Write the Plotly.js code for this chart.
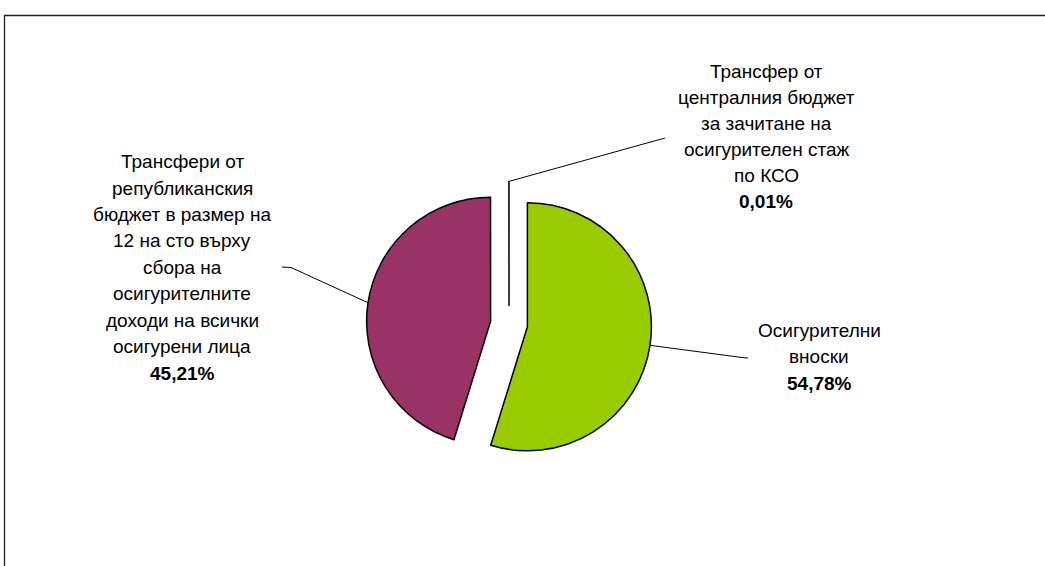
<!DOCTYPE html>
<html><head><meta charset="utf-8">
<script src="https://cdn.plot.ly/plotly-3.0.1.min.js"></script>
<style>html,body{margin:0;padding:0;background:#fff}#chart{width:1045px;height:566px}</style>
</head><body><div id="chart"></div>
<script>
// ---- data ----
const categories = [
  'Осигурителни вноски',
  'Трансфери от републиканския бюджет в размер на 12 на сто върху сбора на осигурителните доходи на всички осигурени лица',
  'Трансфер от централния бюджет за зачитане на осигурителен стаж по КСО'
];
const values = [54.78, 45.21, 0.01];
const sliceColors = ['#99CC00', '#993366', '#FFFFFF'];
const labelLines = [
  ['Осигурителни', 'вноски'],
  ['Трансфери от', 'републиканския', 'бюджет в размер на', '12 на сто върху', 'сбора на', 'осигурителните', 'доходи на всички', 'осигурени лица'],
  ['Трансфер от', 'централния бюджет', 'за зачитане на', 'осигурителен стаж', 'по КСО']
];

// ---- layout geometry (pixels) ----
const W = 1045, H = 566;
const CX = 509, CY = 324, R = 124, PULL = 0.15;
const FS = 19;
const labelPos = [
  {cx: 819, base: 336.7, gap: 26.7, elbow: [742, 357.5], end: [748, 358]},
  {cx: 182, base: 168.3, gap: 26.45, elbow: [291, 267.5], end: [282, 267]},
  {cx: 766, base: 77.7, gap: 26.06, elbow: [665, 138], end: [665, 138]}
];

const px = x => x / W;
const py = y => 1 - y / H;
const half = R * (1 + PULL);

const total = values.reduce((a, b) => a + b, 0);
const fmt = v => v.toFixed(2).replace('.', ',') + '%';

const annotations = [];
const shapes = [];
let cum = 0;
values.forEach((v, i) => {
  const mid = (cum + v / 2) / total * 2 * Math.PI;
  cum += v;
  const sx = Math.sin(mid), sy = -Math.cos(mid);
  const vx = CX + PULL * R * sx, vy = CY + PULL * R * sy;
  const ex = vx + R * sx, ey = vy + R * sy;
  const lp = labelPos[i];
  shapes.push({
    type: 'path', xref: 'paper', yref: 'paper',
    path: `M ${px(ex)} ${py(ey)} L ${px(lp.elbow[0])} ${py(lp.elbow[1])} L ${px(lp.end[0])} ${py(lp.end[1])}`,
    line: {color: '#000', width: 1}
  });
  const lines = labelLines[i].concat(['<b>' + fmt(v) + '</b>']);
  lines.forEach((t, j) => {
    const base = lp.base + j * lp.gap;
    annotations.push({
      xref: 'paper', yref: 'paper', x: px(lp.cx), y: py(base - 0.35 * FS),
      xanchor: 'center', yanchor: 'middle', showarrow: false, text: t,
      font: {family: 'Liberation Sans, Arial, sans-serif', size: FS, color: '#000'}
    });
  });
});

// outer frame
shapes.push({
  type: 'rect', xref: 'paper', yref: 'paper',
  x0: px(4.5), x1: 1.02, y0: py(15.5), y1: -0.02,
  line: {color: '#222', width: 1.3}, fillcolor: 'rgba(0,0,0,0)'
});

const trace = {
  type: 'pie',
  labels: categories,
  values: values,
  sort: false,
  direction: 'clockwise',
  rotation: 0,
  pull: values.map(() => PULL),
  marker: {colors: sliceColors, line: {color: '#000', width: 1.5}},
  textinfo: 'none',
  hoverinfo: 'none',
  showlegend: false,
  domain: {x: [px(CX - half), px(CX + half)], y: [py(CY + half), py(CY - half)]}
};

Plotly.newPlot('chart', [trace], {
  width: W, height: H,
  margin: {l: 0, r: 0, t: 0, b: 0},
  paper_bgcolor: '#fff', plot_bgcolor: '#fff',
  showlegend: false,
  annotations: annotations,
  shapes: shapes
}, {displayModeBar: false, staticPlot: true});
</script>
</body></html>
